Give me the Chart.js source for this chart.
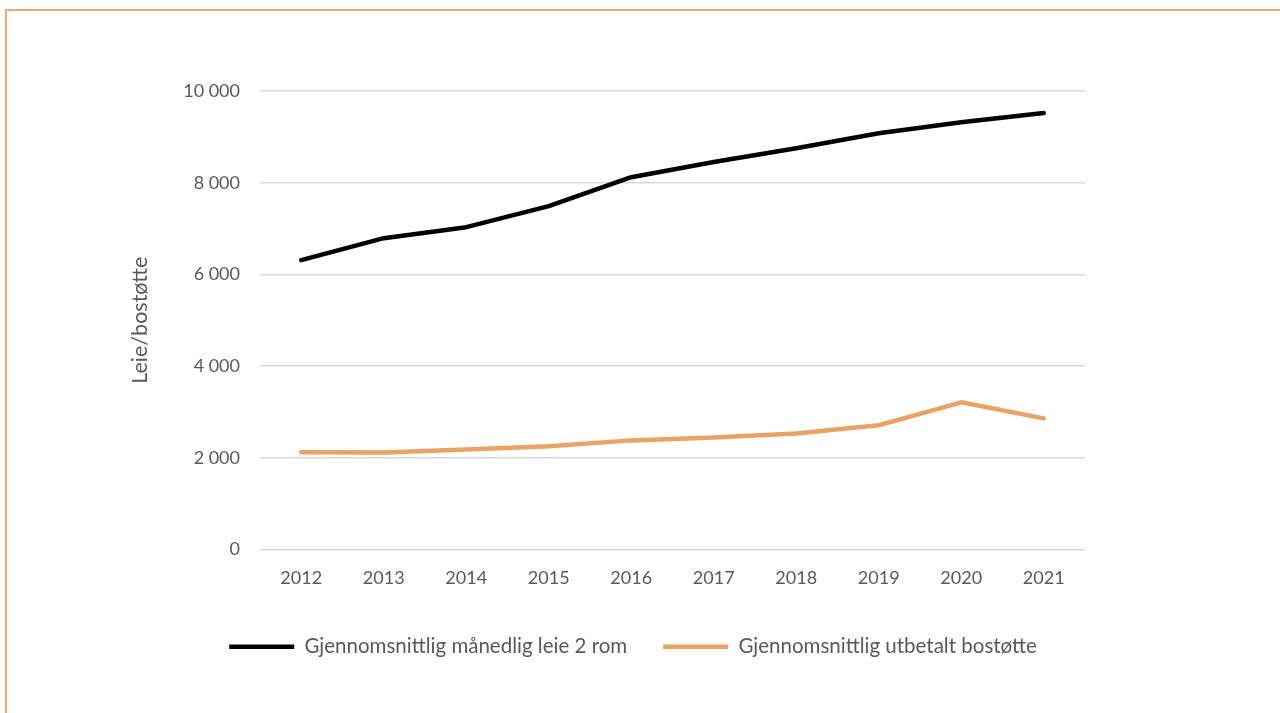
<!DOCTYPE html>
<html lang="no">
<head>
<meta charset="utf-8">
<title>Leie og bostøtte 2012–2021</title>
<script src="https://cdn.jsdelivr.net/npm/chart.js@4/dist/chart.umd.min.js"></script>
<style>
  html, body { margin: 0; padding: 0; background: #fff; overflow: hidden; }
  #frame {
    position: absolute; left: 5px; top: 9px;
    width: 1400px; height: 800px;
    border: 2px solid #efa96b;
  }
  #wrap { position: absolute; left: 0; top: 0; width: 1280px; height: 713px; }
</style>
</head>
<body>
<div id="frame"></div>
<div id="wrap"><canvas id="rentChart"></canvas></div>
<script>
// Årlige gjennomsnitt, kroner per måned
const years = ['2012', '2013', '2014', '2015', '2016', '2017', '2018', '2019', '2020', '2021'];
const rentTwoRooms = [6310, 6790, 7030, 7490, 8120, 8450, 8750, 9080, 9320, 9520];
const housingAllowance = [2120, 2115, 2180, 2250, 2380, 2445, 2530, 2710, 3210, 2860];

const yMin = 0;
const yMax = 10000;
const yStep = 2000;

const seriesNames = ['Gjennomsnittlig månedlig leie 2 rom', 'Gjennomsnittlig utbetalt bostøtte'];
const seriesColors = ['#000000', '#eba262'];
const axisTitle = 'Leie/bostøtte';

const textColor = '#595959';
const fontFamily = 'Lato, "Open Sans", "Liberation Sans", sans-serif';

// 10000 -> "10 000"
function formatThousands(value) {
    return String(value).replace(/\B(?=(\d{3})+(?!\d))/g, ' ');
}

const ctx = document.getElementById('rentChart').getContext('2d');
new Chart(ctx, {
    type: 'line',
    data: {
        labels: years,
        datasets: [
            {
                label: seriesNames[0],
                data: rentTwoRooms,
                borderColor: seriesColors[0],
                backgroundColor: seriesColors[0],
                borderWidth: 4.5,
                borderCapStyle: 'round',
                borderJoinStyle: 'round',
                pointRadius: 0,
                tension: 0,
                fill: false
            },
            {
                label: seriesNames[1],
                data: housingAllowance,
                borderColor: seriesColors[1],
                backgroundColor: seriesColors[1],
                borderWidth: 4.5,
                borderCapStyle: 'round',
                borderJoinStyle: 'round',
                pointRadius: 0,
                tension: 0,
                fill: false
            }
        ]
    },
    options: {
        responsive: true,
        maintainAspectRatio: false,
        animation: false,
        layout: {
            padding: { left: 181, right: 195, top: 91, bottom: 46 }
        },
        plugins: {
            tooltip: { enabled: false },
            legend: {
                position: 'bottom',
                align: 'center',
                labels: {
                    usePointStyle: true,
                    pointStyle: 'line',
                    pointStyleWidth: 65,
                    padding: 36,
                    color: textColor,
                    font: { family: fontFamily, size: 20.5 }
                }
            }
        },
        scales: {
            x: {
                offset: true,
                grid: { display: false, drawTicks: false },
                border: { display: false },
                ticks: {
                    color: textColor,
                    padding: 18,
                    font: { family: fontFamily, size: 18 }
                },
                afterFit(scale) { scale.height = 51; }
            },
            y: {
                min: yMin,
                max: yMax,
                grid: { color: '#d9d9d9', lineWidth: 1.5, drawTicks: false },
                border: { display: false },
                ticks: {
                    stepSize: yStep,
                    color: textColor,
                    padding: 20,
                    font: { family: fontFamily, size: 18 },
                    callback: value => formatThousands(value)
                },
                title: {
                    display: true,
                    text: axisTitle,
                    color: textColor,
                    padding: { top: -54, bottom: 0 },
                    font: { family: fontFamily, size: 21.5 }
                },
                afterFit(scale) { scale.width = 79; }
            }
        }
    }
});
</script>
</body>
</html>
